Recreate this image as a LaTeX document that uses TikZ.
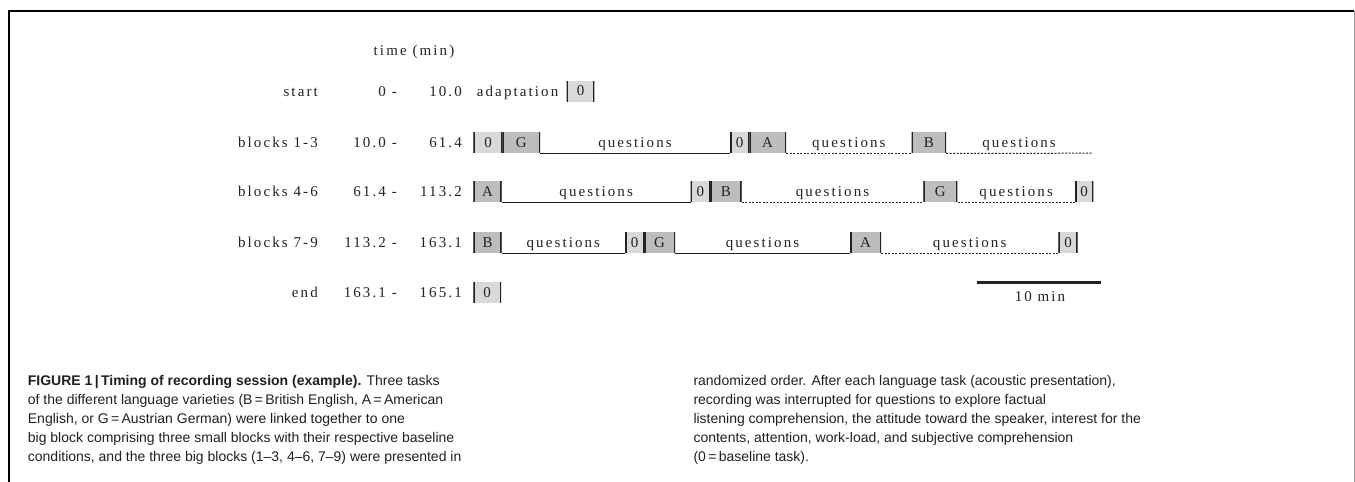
\documentclass[tikz,border=0pt]{standalone}
\usepackage{fontspec}
\usepackage{xcolor}
\usepackage{tikz}
\usetikzlibrary{positioning,calc}
\setmainfont{Liberation Sans}
\newfontfamily\timingfont[LetterSpace=14]{Liberation Serif}
\newcommand{\diagtext}{\timingfont\fontsize{15}{18}\selectfont}
\definecolor{ink}{HTML}{222222}
\definecolor{capink}{HTML}{231F20}
\definecolor{zerogray}{HTML}{D9D9D9}
\definecolor{lettergray}{HTML}{BDBDBD}
\definecolor{framegray}{HTML}{9A9A9A}

\begin{document}
\begin{tikzpicture}[x=1pt, y=-1pt,
    lab/.style={font=\diagtext, text=ink, anchor=base east, inner sep=0pt},
    bars/.style={path picture={\draw[ink, line width=3pt]
        (path picture bounding box.north west) -- (path picture bounding box.south west)
        (path picture bounding box.north east) -- (path picture bounding box.south east);}},
    zbox/.style={rectangle, fill=zerogray, minimum height=21pt, inner sep=0pt, font=\diagtext, text=ink, bars},
    lbox/.style={zbox, fill=lettergray},
    qsolid/.style={draw=ink, line width=1.2pt},
    qdash/.style={draw=ink, line width=1pt, dash pattern=on 2pt off 1.5pt},
    qtext/.style={font=\diagtext, text=ink, anchor=base, yshift=5.5pt, inner sep=0pt},
    caption/.style={font=\fontsize{14}{19}\selectfont, text=capink, anchor=base west, inner sep=0pt}
]
    \useasboundingbox (0,0) rectangle (1355,482);

    % frame
    \draw[line width=2pt, black] (9.3,482) -- (9.3,10.7) -- (1354.3,10.7);
    \draw[line width=1.5pt, framegray] (1354.3,10.7) -- (1354.3,482);

    % header
    \node[font=\diagtext, text=ink, anchor=base, inner sep=0pt] (thead) at (414,55) {time (min)};

    % row: start
    \node[lab] (lstart) at (318,96) {start};
    \node[lab] (fstart) at (397,96) {0 -};
    \node[lab] (tstart) at (462,96) {10.0};
    \node[font=\diagtext, text=ink, anchor=base west, inner sep=0pt] (adapt) at (476.7,96) {adaptation};
    \node[zbox, minimum width=27.6pt] (z0) at (580.5,91) {0};

    % row: blocks 1-3
    \node[lab] (l13) at (318,147.7) {blocks 1-3};
    \node[lab] (f13) at (397,147.7) {10.0 -};
    \node[lab] (t13) at (462,147.7) {61.4};
    \node[zbox, minimum width=29.4pt] (z1) at (488,142.7) {0};
    \node[lbox, minimum width=37.3pt] (g1) at (521.35,142.7) {G};
    \node[zbox, minimum width=19.3pt] (z2) at (739.65,142.7) {0};
    \node[lbox, minimum width=36.7pt] (a1) at (767.65,142.7) {A};
    \node[lbox, minimum width=34.3pt] (b1) at (928.85,142.7) {B};
    \coordinate (e13) at (1092,153.2);
    \draw[qsolid] (g1.south east) -- node[qtext] {questions} (z2.south west);
    \draw[qdash] (a1.south east) -- node[qtext] {questions} (b1.south west);
    \draw[qdash] (b1.south east) -- node[qtext] {questions} (e13);

    % row: blocks 4-6
    \node[lab] (l46) at (318,196.7) {blocks 4-6};
    \node[lab] (f46) at (397,196.7) {61.4 -};
    \node[lab] (t46) at (462,196.7) {113.2};
    \node[lbox, minimum width=28.4pt] (a2) at (487.5,191.7) {A};
    \node[zbox, minimum width=19.3pt] (z3) at (700.35,191.7) {0};
    \node[lbox, minimum width=31.7pt] (b2) at (725.85,191.7) {B};
    \node[lbox, minimum width=34pt] (g2) at (940.3,191.7) {G};
    \node[zbox, minimum width=18.3pt] (z4) at (1084.15,191.7) {0};
    \draw[qsolid] (a2.south east) -- node[qtext] {questions} (z3.south west);
    \draw[qdash] (b2.south east) -- node[qtext] {questions} (g2.south west);
    \draw[qdash] (g2.south east) -- node[qtext] {questions} (z4.south west);

    % row: blocks 7-9
    \node[lab] (l79) at (318,247.7) {blocks 7-9};
    \node[lab] (f79) at (397,247.7) {113.2 -};
    \node[lab] (t79) at (462,247.7) {163.1};
    \node[lbox, minimum width=28.4pt] (b3) at (487.5,242.7) {B};
    \node[zbox, minimum width=19pt] (z5) at (634.5,242.7) {0};
    \node[lbox, minimum width=31pt] (g3) at (659.5,242.7) {G};
    \node[lbox, minimum width=31pt] (a3) at (865.5,242.7) {A};
    \node[zbox, minimum width=19.4pt] (z6) at (1068,242.7) {0};
    \draw[qsolid] (b3.south east) -- node[qtext] {questions} (z5.south west);
    \draw[qsolid] (g3.south east) -- node[qtext] {questions} (a3.south west);
    \draw[qdash] (a3.south east) -- node[qtext] {questions} (z6.south west);

    % row: end
    \node[lab] (lend) at (318,297.5) {end};
    \node[lab] (fend) at (397,297.5) {163.1 -};
    \node[lab] (tend) at (462,297.5) {165.1};
    \node[zbox, minimum width=27.7pt] (z7) at (487.15,292.5) {0};

    % scale bar
    \coordinate (sbl) at (976.7,282.7);
    \coordinate (sbr) at (1101,282.7);
    \draw[ink, line width=2.5pt] (sbl) -- (sbr);
    \node[font=\diagtext, text=ink, anchor=base, inner sep=0pt] (sbtext) at (1040,301.7) {10 min};

    % caption
    \node[caption] (capl) at (27.7,385) {\begin{tabular}[t]{@{}l@{}}
        \textbf{FIGURE 1\,|\,Timing of recording session (example).} Three tasks\\
        of the different language varieties (B\,=\,British English, A\,=\,American\\
        English, or G\,=\,Austrian German) were linked together to one\\
        big block comprising three small blocks with their respective baseline\\
        conditions, and the three big blocks (1--3, 4--6, 7--9) were presented in
        \end{tabular}};
    \node[caption] (capr) at (693.3,385) {\begin{tabular}[t]{@{}l@{}}
        randomized order. After each language task (acoustic presentation),\\
        recording was interrupted for questions to explore factual\\
        listening comprehension, the attitude toward the speaker, interest for the\\
        contents, attention, work-load, and subjective comprehension\\
        (0\,=\,baseline task).
        \end{tabular}};
\end{tikzpicture}
\end{document}
